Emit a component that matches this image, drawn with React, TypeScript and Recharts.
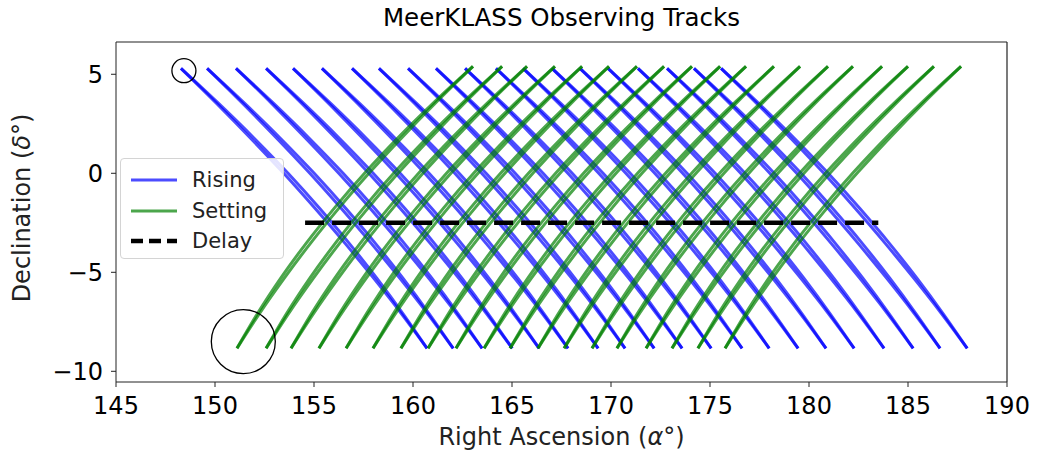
import { LineChart, Line, XAxis, YAxis, ReferenceDot, ReferenceLine } from "recharts"

// RA where each rising track starts (top, dec ~ +5.3)
const risingStartRA = [
  148.28, 149.6, 151.06, 152.58, 153.94, 155.4, 156.92, 158.28, 159.75, 161.16,
  162.63, 164.19, 165.56, 167.02, 168.43, 169.85, 171.36, 172.83, 174.19, 175.56,
]

// RA where each setting track starts (bottom, dec ~ -8.84)
const settingStartRA = [
  151.11, 152.58, 153.84, 155.25, 156.62, 157.98, 159.39, 160.76, 162.17, 163.59,
  164.9, 166.31, 167.63, 169.04, 170.3, 171.77, 173.08, 174.39, 175.76,
]

// shape of one rising track (RA offset vs dec)
const risingDec = [5.3, 3.53, 1.76, 0.0, -1.77, -3.54, -5.31, -7.07, -8.84]
const risingOffsetA = [0, 1.8, 3.53, 5.19, 6.77, 8.29, 9.74, 11.12, 12.43]
const risingOffsetB = [0, 1.9, 3.71, 5.41, 7.0, 8.5, 9.9, 11.2, 12.43]

// shape of one setting track, from the bottom end upwards
const settingDec = [-8.84, -7.06, -5.28, -3.5, -1.72, 0.06, 1.84, 3.62, 5.4]
const settingOffsetA = [0, 1.05, 2.22, 3.52, 4.95, 6.5, 8.18, 9.99, 11.92]
const settingOffsetB = [0, 1.15, 2.4, 3.74, 5.18, 6.72, 8.36, 10.09, 11.92]

const delayRA = [154.55, 183.5]
const delayDec = -2.5

const xTicks = [145, 150, 155, 160, 165, 170, 175, 180, 185, 190]
const yTicks = [-10, -5, 0, 5]
const xDomain = [145, 190]
const yDomain = [-10.54, 6.63]

const FONT = "DejaVu Sans, sans-serif"

const buildTrack = (start: number, offsets: number[], decs: number[]) =>
  decs.map((dec, i) => ({ x: start + offsets[i], y: dec }))

const risingTracks = risingStartRA.flatMap((ra) => [
  buildTrack(ra, risingOffsetA, risingDec),
  buildTrack(ra, risingOffsetB, risingDec),
])
const settingTracks = settingStartRA.flatMap((ra) => [
  buildTrack(ra, settingOffsetA, settingDec),
  buildTrack(ra, settingOffsetB, settingDec),
])
const delayData = delayRA.map((ra) => ({ x: ra, y: delayDec }))

const fmt = (v: number) => String(v).replace("-", "\u2212")

export default function App() {
  return (
    <div style={{ position: "absolute", left: 0, top: 0, width: 1040, height: 461, background: "#fff", fontFamily: FONT }}>
      <LineChart width={1040} height={461} margin={{ top: 42, right: 33, bottom: 39, left: 0 }}>
        <XAxis
          type="number"
          dataKey="x"
          domain={xDomain}
          ticks={xTicks}
          allowDataOverflow
          height={40}
          tickSize={5}
          tickMargin={10}
          stroke="#222"
          tick={{ fontSize: 24, fill: "#000", fontFamily: FONT }}
        />
        <YAxis
          type="number"
          dataKey="y"
          domain={yDomain}
          ticks={yTicks}
          allowDataOverflow
          width={116}
          tickSize={5}
          tickMargin={8}
          stroke="#222"
          tickFormatter={fmt}
          tick={{ fontSize: 24, fill: "#000", fontFamily: FONT }}
        />
        {risingTracks.map((d, i) => (
          <Line
            key={"r" + i}
            data={d}
            dataKey="y"
            type="monotone"
            stroke="blue"
            strokeOpacity={0.7}
            strokeWidth={3}
            dot={false}
            isAnimationActive={false}
          />
        ))}
        {settingTracks.map((d, i) => (
          <Line
            key={"s" + i}
            data={d}
            dataKey="y"
            type="monotone"
            stroke="green"
            strokeOpacity={0.7}
            strokeWidth={3}
            dot={false}
            isAnimationActive={false}
          />
        ))}
        <Line
          data={delayData}
          dataKey="y"
          stroke="#000"
          strokeWidth={4.5}
          strokeDasharray="19 8"
          dot={false}
          isAnimationActive={false}
        />
        <ReferenceDot x={148.43} y={5.18} r={12} fill="none" stroke="#000" strokeWidth={1.3} />
        <ReferenceDot x={151.43} y={-8.5} r={32} fill="none" stroke="#000" strokeWidth={1.3} />
        <ReferenceLine y={yDomain[1]} stroke="#222" strokeWidth={1.2} />
        <ReferenceLine x={xDomain[1]} stroke="#222" strokeWidth={1.2} />
      </LineChart>

      <div style={{ position: "absolute", left: 0, width: 1123, top: 3, textAlign: "center", fontSize: 24.5, color: "#000" }}>
        MeerKLASS Observing Tracks
      </div>
      <div style={{ position: "absolute", left: 0, width: 1123, top: 423, textAlign: "center", fontSize: 24, color: "#222" }}>
        Right Ascension (<i>α</i>°)
      </div>
      <div
        style={{
          position: "absolute",
          left: 22,
          top: 208,
          transform: "translate(-50%, -50%) rotate(-90deg)",
          whiteSpace: "nowrap",
          fontSize: 24,
          color: "#222",
        }}
      >
        Declination (<i>δ</i>°)
      </div>

      <div
        style={{
          position: "absolute",
          left: 120,
          top: 158,
          width: 162,
          height: 99,
          border: "1px solid #d4d4d4",
          borderRadius: 4,
          background: "rgba(255,255,255,0.85)",
          fontSize: 21,
          color: "#222",
        }}
      >
        {[
          { label: "Rising", color: "rgba(0,0,255,0.7)", dash: undefined, w: 3, y: 21 },
          { label: "Setting", color: "rgba(0,128,0,0.7)", dash: undefined, w: 3, y: 52 },
          { label: "Delay", color: "#000", dash: "12 6", w: 4.5, y: 82 },
        ].map((it) => (
          <div key={it.label} style={{ position: "absolute", left: 0, top: it.y - 12, height: 24, width: 160 }}>
            <svg width={60} height={24} style={{ position: "absolute", left: 0, top: 0 }}>
              <line x1={10} y1={12} x2={56} y2={12} stroke={it.color} strokeWidth={it.w} strokeDasharray={it.dash} />
            </svg>
            <span style={{ position: "absolute", left: 71, top: 0, lineHeight: "24px" }}>{it.label}</span>
          </div>
        ))}
      </div>
    </div>
  )
}
